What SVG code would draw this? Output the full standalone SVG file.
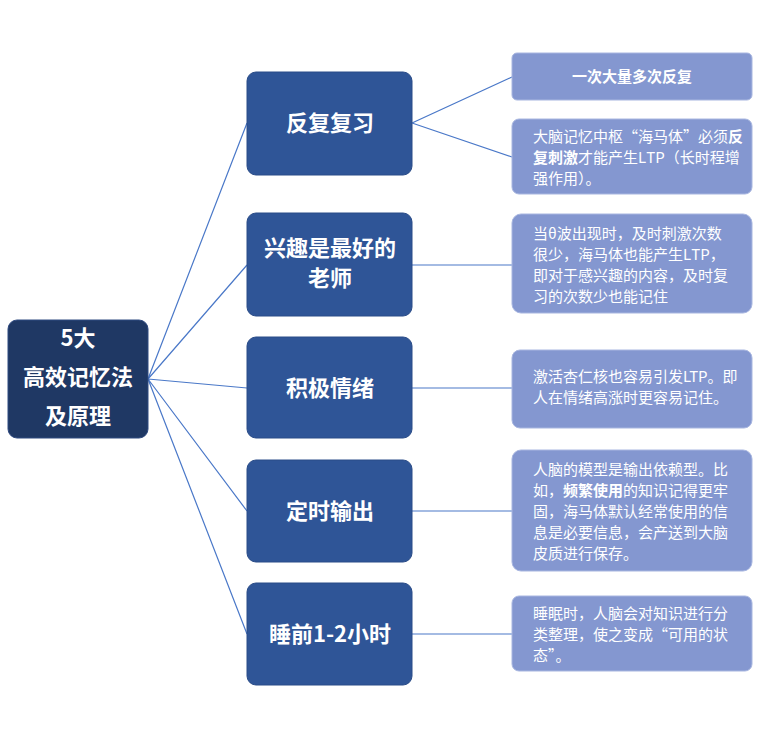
<svg xmlns="http://www.w3.org/2000/svg" width="776" height="739" viewBox="0 0 776 739">
<style>
.root{fill:#1f3864;stroke:#2f4a80;stroke-width:1}
.mid{fill:#2f5597;stroke:#2a4c88;stroke-width:1}
.leaf{fill:#8497d0;stroke:#a8b6e0;stroke-width:1}
.t{font-family:"Noto Sans CJK SC","Noto Sans",sans-serif;fill:#fff}
.big{font-size:22px;font-weight:bold;text-anchor:middle}
.sm{font-size:15px}
.c{stroke:#4a78c8;stroke-width:1.2;fill:none}
</style>
<rect width="776" height="739" fill="#fff"/>
<g id="connectors">
<path class="c" d="M148 379L247 123M148 379L247 265M148 379L247 388M148 379L247 511M148 379L247 634"/>
<path class="c" d="M412 123L512 77M412 123L512 157M412 265H512M412 388H512M412 511H512M412 634H512"/>
</g>
<g id="root"><rect class="root" x="8" y="320" width="140" height="118" rx="9"/>
<text class="t big" x="78" y="346">5大</text><text class="t big" x="78" y="385">高效记忆法</text><text class="t big" x="78" y="424">及原理</text></g>
<g id="n1"><rect class="mid" x="247" y="72" width="165" height="103" rx="9"/><text class="t big" x="330" y="131">反复复习</text></g>
<g id="n2"><rect class="mid" x="247" y="213" width="165" height="103" rx="9"/><text class="t big" x="330" y="256">兴趣是最好的</text><text class="t big" x="330" y="286">老师</text></g>
<g id="n3"><rect class="mid" x="247" y="337" width="165" height="101" rx="9"/><text class="t big" x="330" y="396">积极情绪</text></g>
<g id="n4"><rect class="mid" x="247" y="460" width="165" height="102" rx="9"/><text class="t big" x="330" y="519">定时输出</text></g>
<g id="n5"><rect class="mid" x="247" y="583" width="165" height="102" rx="9"/><text class="t big" x="330" y="642">睡前1-2小时</text></g>
<g id="l1"><rect class="leaf" x="512" y="53" width="240" height="47" rx="5"/><text class="t sm" x="632" y="82" text-anchor="middle" font-weight="bold">一次大量多次反复</text></g>
<g id="l2"><rect class="leaf" x="512" y="119" width="240" height="75" rx="7"/>
<text class="t sm" x="533" y="142">大脑记忆中枢“海马体”必须<tspan font-weight="bold">反</tspan></text>
<text class="t sm" x="533" y="163"><tspan font-weight="bold">复刺激</tspan>才能产生LTP（长时程增</text>
<text class="t sm" x="533" y="184">强作用）。</text></g>
<g id="l3"><rect class="leaf" x="512" y="214" width="240" height="99" rx="9"/>
<text class="t sm" x="533" y="239">当θ波出现时，及时刺激次数</text>
<text class="t sm" x="533" y="260">很少，海马体也能产生LTP，</text>
<text class="t sm" x="533" y="281">即对于感兴趣的内容，及时复</text>
<text class="t sm" x="533" y="302">习的次数少也能记住</text></g>
<g id="l4"><rect class="leaf" x="512" y="350" width="240" height="78" rx="8"/>
<text class="t sm" x="533" y="382">激活杏仁核也容易引发LTP。即</text>
<text class="t sm" x="533" y="403">人在情绪高涨时更容易记住。</text></g>
<g id="l5"><rect class="leaf" x="512" y="450" width="240" height="121" rx="9"/>
<text class="t sm" x="533" y="475">人脑的模型是输出依赖型。比</text>
<text class="t sm" x="533" y="496">如，<tspan font-weight="bold">频繁使用</tspan>的知识记得更牢</text>
<text class="t sm" x="533" y="517">固，海马体默认经常使用的信</text>
<text class="t sm" x="533" y="538">息是必要信息，会产送到大脑</text>
<text class="t sm" x="533" y="559">皮质进行保存。</text></g>
<g id="l6"><rect class="leaf" x="512" y="596" width="240" height="75" rx="7"/>
<text class="t sm" x="533" y="619">睡眠时，人脑会对知识进行分</text>
<text class="t sm" x="533" y="640">类整理，使之变成“可用的状</text>
<text class="t sm" x="533" y="661">态”。</text></g>
</svg>
